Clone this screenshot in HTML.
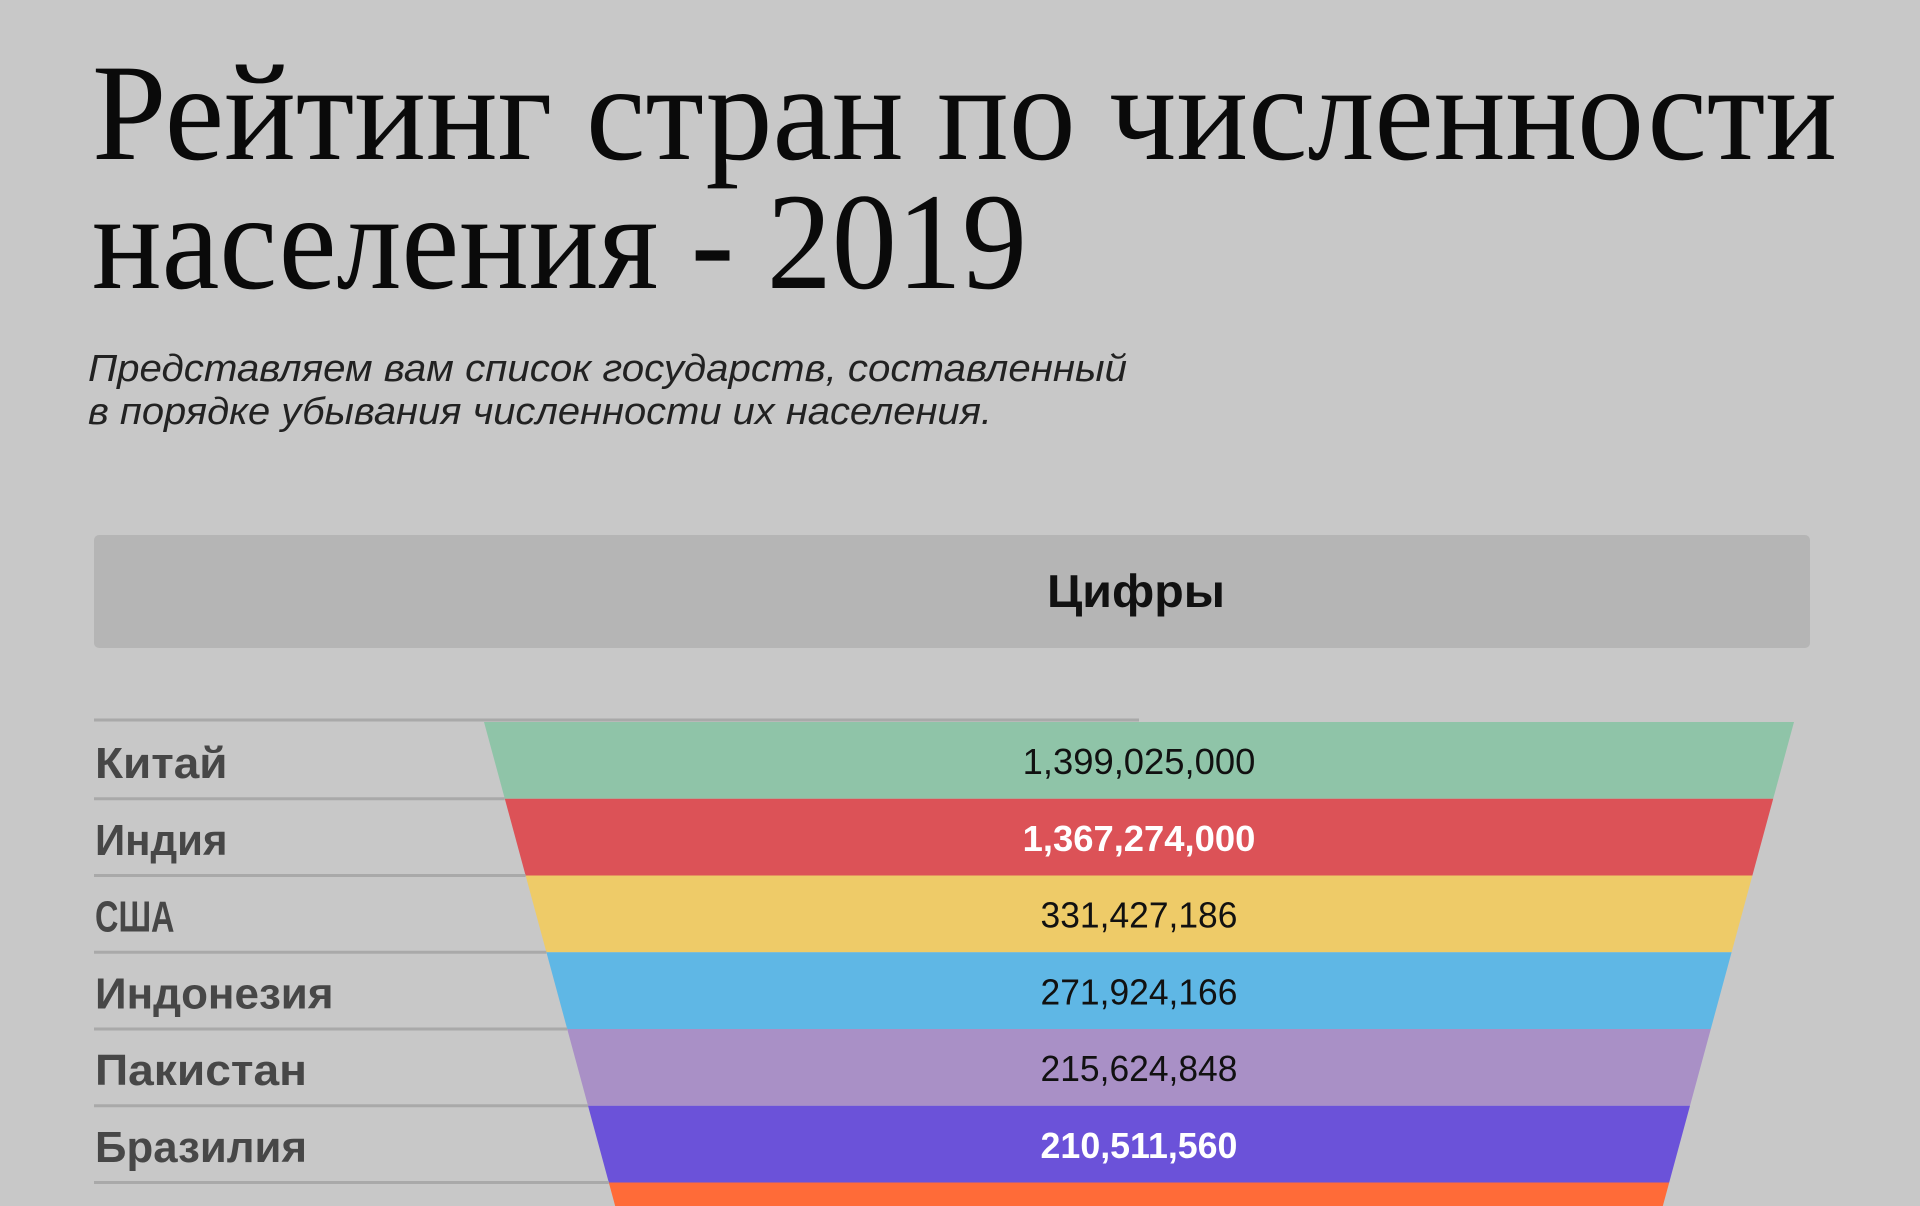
<!DOCTYPE html>
<html><head><meta charset="utf-8"><style>
html,body{margin:0;padding:0;background:#c8c8c8;}
svg{display:block;}
</style></head><body>
<svg id="chart" width="1920" height="1206" viewBox="0 0 1920 1206" xmlns="http://www.w3.org/2000/svg">
<rect x="0" y="0" width="1920" height="1206" fill="#c8c8c8"/>
<g font-family="'Liberation Serif', serif" fill="#0a0a0a" font-size="138">
<text x="92" y="159" textLength="1745" lengthAdjust="spacingAndGlyphs">Рейтинг стран по численности</text>
<text x="92" y="288" textLength="935" lengthAdjust="spacingAndGlyphs">населения - 2019</text>
</g>
<g font-family="'Liberation Sans', sans-serif" font-style="italic" fill="#222" font-size="38">
<text x="88" y="381" textLength="1039" lengthAdjust="spacingAndGlyphs">Представляем вам список государств, составленный</text>
<text x="88" y="424" textLength="904" lengthAdjust="spacingAndGlyphs">в порядке убывания численности их населения.</text>
</g>
<rect x="94" y="535" width="1716" height="113" rx="5" fill="#b5b5b5"/>
<text x="1136" y="607" text-anchor="middle" font-family="'Liberation Sans', sans-serif" font-weight="bold" font-size="46" fill="#111" textLength="178" lengthAdjust="spacingAndGlyphs">Цифры</text>
<line x1="94" y1="720" x2="1139" y2="720" stroke="#a9a9a9" stroke-width="3"/>
<g id="rows"></g>
</svg>
<script>
const countries = ["Китай","Индия","США","Индонезия","Пакистан","Бразилия","Нигерия"];
const populations = [1399025000,1367274000,331427186,271924166,215624848,210511560,200963599];
const colors = ["#8fc4a8","#dc5257","#eecb68","#5fb7e5","#a990c6","#6b52d9","#ff6b38"];
const textColors = ["#111","#fff","#111","#111","#111","#fff","#111"];
const NS="http://www.w3.org/2000/svg";
const g=document.getElementById('rows');
const top0=722, pitch=76.75, leftTop=484, rightTop=1794, slope=20.8/76.75, cx=1139;
function yPos(i){return top0+i*pitch;}
function xl(y){return leftTop+(y-top0)*slope;}
function xr(y){return rightTop-(y-top0)*slope;}
function fmt(v){return v.toLocaleString('en-US');}
countries.forEach((c,i)=>{
  const y0=yPos(i), y1=yPos(i+1);
  const p=document.createElementNS(NS,'polygon');
  
  
  p.setAttribute('points',`${xl(y0)},${y0} ${xr(y0)},${y0} ${xr(y1)},${y1} ${xl(y1)},${y1}`);
  p.setAttribute('fill',colors[i]);
  g.appendChild(p);
  if(i>0){
    const ln=document.createElementNS(NS,'line');
    
    
    ln.setAttribute('x1',94);ln.setAttribute('x2',xl(y0));
    ln.setAttribute('y1',y0);ln.setAttribute('y2',y0);
    ln.setAttribute('stroke','#a9a9a9');ln.setAttribute('stroke-width','3');
    g.appendChild(ln);
  }
  const lab=document.createElementNS(NS,'text');
  
  
  lab.setAttribute('x',95);lab.setAttribute('y',y0+56);
  lab.setAttribute('font-family',"'Liberation Sans', sans-serif");
  lab.setAttribute('font-weight','bold');lab.setAttribute('font-size','44');
  lab.setAttribute('fill','#474747');
  lab.setAttribute('textLength',c.length*26.5);
  lab.setAttribute('lengthAdjust','spacingAndGlyphs');
  lab.textContent=c;
  g.appendChild(lab);
  const s=fmt(populations[i]);
  const val=document.createElementNS(NS,'text');
  
  
  val.setAttribute('x',cx);val.setAttribute('y',y0+52);
  val.setAttribute('text-anchor','middle');
  val.setAttribute('font-family',"'Liberation Sans', sans-serif");
  val.setAttribute('font-size','36');
  val.setAttribute('font-weight',textColors[i]==='#fff'?'bold':'normal');
  val.setAttribute('fill',textColors[i]);
  val.setAttribute('textLength',s.length*17.9);
  val.setAttribute('lengthAdjust','spacingAndGlyphs');
  val.textContent=s;
  g.appendChild(val);
});
</script>
</body></html>
